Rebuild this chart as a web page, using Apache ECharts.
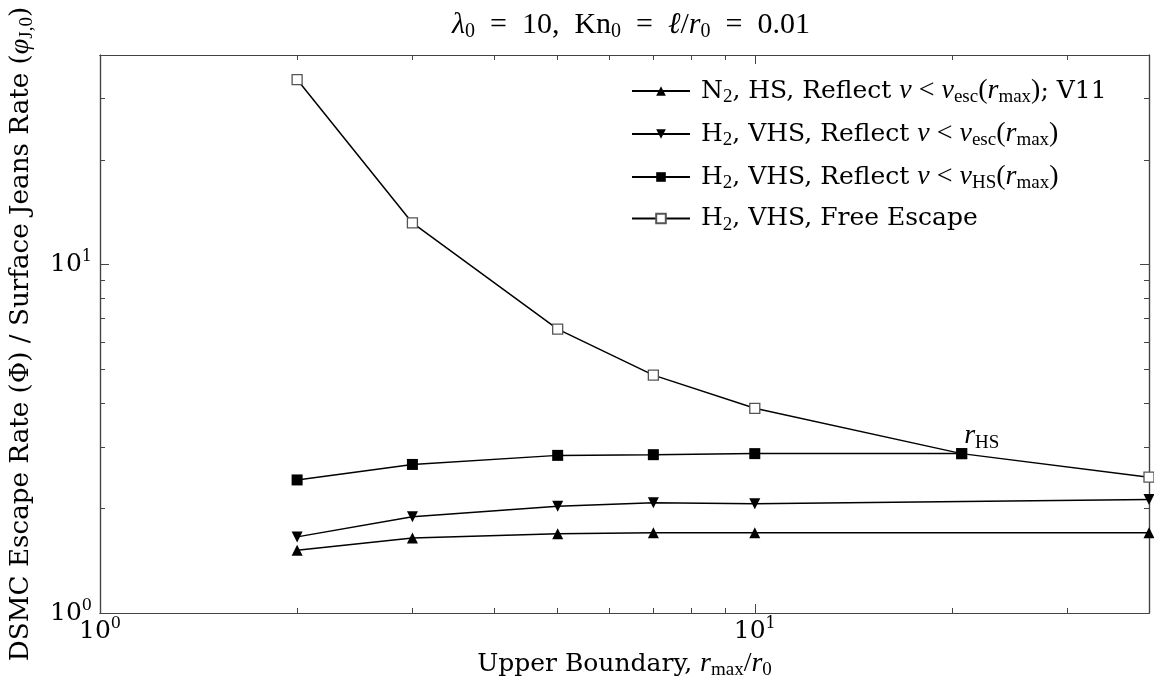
<!DOCTYPE html>
<html>
<head>
<meta charset="utf-8">
<script src="https://cdn.jsdelivr.net/npm/echarts@6/dist/echarts.min.js"></script>
<style>
  html, body { margin: 0; padding: 0; background: #ffffff; }
  #chart { width: 1154px; height: 684px; }
</style>
</head>
<body>
<div id="chart"></div>
<script>
// data (log-log)
const n2HsX = [2, 3, 5, 7, 10, 40];
const n2HsY = [1.514, 1.643, 1.688, 1.699, 1.699, 1.699];
const h2EscX = [2, 3, 5, 7, 10, 40];
const h2EscY = [1.654, 1.889, 2.026, 2.073, 2.059, 2.118];
const h2HsX = [2, 3, 5, 7, 10, 20.7];
const h2HsY = [2.41, 2.67, 2.835, 2.848, 2.868, 2.868];
const freeX = [2, 3, 5, 7, 10, 20.7, 40];
const freeY = [34.0, 13.18, 6.53, 4.82, 3.87, 2.868, 2.455];

const majorTicks = [1, 10];
const minorTicks = [2, 3, 4, 5, 6, 7, 8, 9, 20, 30, 40];

const seriesNames = [
  "N2, HS, Reflect v<vesc(rmax); V11",
  "H2, VHS, Reflect v<vesc(rmax)",
  "H2, VHS, Reflect v<vHS(rmax)",
  "H2, VHS, Free Escape"
];
const legendRich = [
  "{n|N}{sub|2}{n|, HS, Reflect }{it|v}{m| < }{it|v}{sub|esc}{m|(}{it|r}{sub|max}{m|)}{n|; V11}",
  "{n|H}{sub|2}{n|, VHS, Reflect }{it|v}{m| < }{it|v}{sub|esc}{m|(}{it|r}{sub|max}{m|)}",
  "{n|H}{sub|2}{n|, VHS, Reflect }{it|v}{m| < }{it|v}{sub|HS}{m|(}{it|r}{sub|max}{m|)}",
  "{n|H}{sub|2}{n|, VHS, Free Escape}"
];

const chartDom = document.getElementById("chart");
const myChart = echarts.init(chartDom);

const axisColor = "#444444";
const richStyles = {
  n: { fontFamily: "DejaVu Serif", fontSize: 25, color: "#000" },
  m: { fontFamily: "Liberation Serif", fontSize: 28, color: "#000" },
  it: { fontFamily: "Liberation Serif", fontStyle: "italic", fontSize: 28, color: "#000" },
  sub: { fontFamily: "Liberation Serif", fontSize: 19, color: "#000", padding: [13, 0, 0, 0] },
  sup: { fontFamily: "DejaVu Serif", fontSize: 16, color: "#000", padding: [0, 0, 15, 0] },
  tk: { fontFamily: "DejaVu Serif", fontSize: 25, color: "#000" }
};
const yNameRich = {
  n: { fontFamily: "DejaVu Serif", fontSize: 26.2, color: "#000" },
  it: { fontFamily: "Liberation Serif", fontStyle: "italic", fontSize: 28, color: "#000" },
  sub: { fontFamily: "Liberation Serif", fontSize: 19, color: "#000", padding: [13, 0, 0, 0] }
};

const pairs = (xs, ys) => xs.map((x, i) => [x, ys[i]]);

function logAxis(pos, major, withLabels) {
  return {
    type: "log",
    logBase: 10,
    min: 1,
    max: 40,
    position: pos,
    axisLine: { show: true, onZero: false, lineStyle: { color: axisColor, width: 1.2 } },
    axisTick: {
      show: true,
      inside: true,
      length: major ? 9 : 5,
      customValues: major ? majorTicks : minorTicks,
      lineStyle: { color: axisColor, width: 1 }
    },
    axisLabel: withLabels ? {
      show: true,
      customValues: majorTicks,
      formatter: function (v) {
        return "{tk|10}{sup|" + Math.round(Math.log10(v)) + "}";
      },
      rich: richStyles
    } : { show: false },
    splitLine: { show: false }
  };
}

const xBottom = logAxis("bottom", true, true);
xBottom.axisLabel.margin = 3;
xBottom.name = "{n|Upper Boundary, }{it|r}{sub|max}{m|/}{it|r}{sub|0}";
xBottom.nameLocation = "middle";
xBottom.nameGap = 35;
xBottom.nameTextStyle = { rich: richStyles };

const yLeft = logAxis("left", true, true);
yLeft.axisLabel.margin = 8;
yLeft.name = "{n|DSMC Escape Rate (Φ) / Surface Jeans Rate (}{it|φ}{sub|J,0}{n|)}";
yLeft.nameLocation = "middle";
yLeft.nameGap = 63;
yLeft.nameTextStyle = { rich: yNameRich };

const titleRich = {
  m: { fontFamily: "Liberation Serif", fontSize: 30, fontWeight: "normal", color: "#000" },
  it: { fontFamily: "Liberation Serif", fontStyle: "italic", fontWeight: "normal", fontSize: 30, color: "#000" },
  sub: { fontFamily: "Liberation Serif", fontSize: 20, fontWeight: "normal", color: "#000", padding: [13, 0, 0, 0] }
};

const option = {
  animation: false,
  backgroundColor: "#ffffff",
  title: {
    text: "{it|λ}{sub|0}{m|  =  10,  Kn}{sub|0}{m|  =  }{it|ℓ}{m|/}{it|r}{sub|0}{m|  =  0.01}",
    left: 626,
    top: 4,
    textAlign: "center",
    textStyle: { fontWeight: "normal", rich: titleRich }
  },
  grid: { left: 100, right: 5, top: 55, bottom: 71, containLabel: false, outerBoundsMode: "none" },
  legend: {
    orient: "vertical",
    left: 626,
    top: 72,
    itemWidth: 58,
    itemHeight: 12,
    itemGap: 13,
    data: seriesNames,
    formatter: function (name) {
      return legendRich[seriesNames.indexOf(name)];
    },
    textStyle: { rich: richStyles, padding: [0, 0, 0, 6] }
  },
  xAxis: [
    xBottom,
    logAxis("bottom", false, false),
    logAxis("top", true, false),
    logAxis("top", false, false)
  ],
  yAxis: [
    yLeft,
    logAxis("left", false, false),
    logAxis("right", true, false),
    logAxis("right", false, false)
  ],
  series: [
    {
      name: seriesNames[0],
      type: "line",
      data: pairs(n2HsX, n2HsY),
      symbol: "triangle",
      symbolSize: 11,
      lineStyle: { color: "#000", width: 1.5 },
      itemStyle: { color: "#000" },
      z: 3
    },
    {
      name: seriesNames[1],
      type: "line",
      data: pairs(h2EscX, h2EscY),
      symbol: "triangle",
      symbolRotate: 180,
      symbolSize: 11,
      lineStyle: { color: "#000", width: 1.5 },
      itemStyle: { color: "#000" },
      z: 3
    },
    {
      name: seriesNames[2],
      type: "line",
      data: pairs(h2HsX, h2HsY).map(function (p, i, arr) {
        if (i === arr.length - 1) {
          return {
            value: p,
            label: {
              show: true,
              position: [8, -28],
              formatter: "{it|r}{sub|HS}",
              rich: richStyles
            }
          };
        }
        return p;
      }),
      symbol: "rect",
      symbolSize: 11,
      lineStyle: { color: "#000", width: 1.5 },
      itemStyle: { color: "#000" },
      z: 5
    },
    {
      name: seriesNames[3],
      type: "line",
      data: pairs(freeX, freeY),
      symbol: "rect",
      symbolSize: 10,
      showAllSymbol: true,
      lineStyle: { color: "#000", width: 1.5 },
      itemStyle: { color: "#ffffff", borderColor: "#555555", borderWidth: 1.3 },
      z: 4
    }
  ]
};

myChart.setOption(option);
</script>
</body>
</html>
